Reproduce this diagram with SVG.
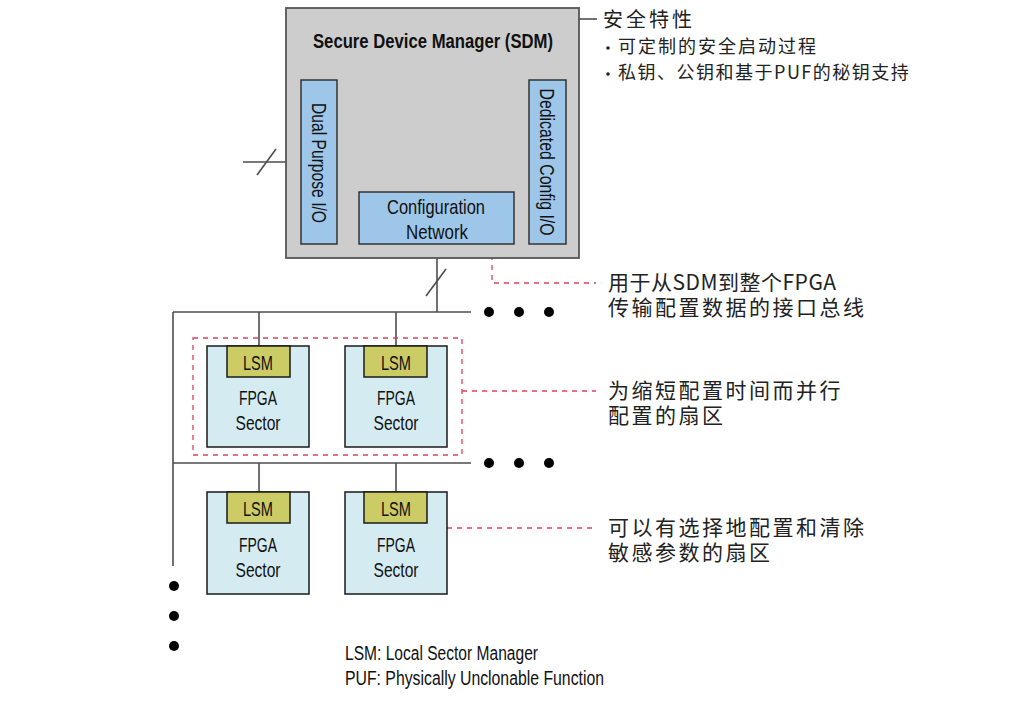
<svg xmlns="http://www.w3.org/2000/svg" width="1020" height="705" viewBox="0 0 1020 705">
<style>
.en{font-family:"Liberation Sans Narrow","Liberation Sans",Arial,sans-serif;fill:#111}
.cn{font-family:"Noto Sans CJK SC","Noto Sans",sans-serif;fill:#222}
.ln{stroke:#4d4d4d;stroke-width:1.6;fill:none}
.dash{stroke:#e0405a;stroke-width:1.3;stroke-dasharray:5,5;fill:none}
.sec{fill:#d4ebf1;stroke:#1a1a1a;stroke-width:1.5}
.lsm{fill:#cccc66;stroke:#1a1a1a;stroke-width:1.5}
.io{fill:#9dc6e8;stroke:#333;stroke-width:1.5}
.dot{fill:#000}
</style>
<rect width="1020" height="705" fill="#fff"/>
<g id="connectors">
  <line class="ln" x1="579" y1="19" x2="597" y2="19"/>
  <line class="ln" x1="243" y1="162" x2="301" y2="162"/>
  <line class="ln" x1="257" y1="175" x2="276" y2="149"/>
  <line class="ln" x1="437" y1="244" x2="437" y2="312"/>
  <line class="ln" x1="426" y1="296" x2="446" y2="269"/>
  <line class="ln" x1="173" y1="312" x2="471" y2="312"/>
  <line class="ln" x1="173" y1="463" x2="471" y2="463"/>
  <line class="ln" x1="173" y1="312" x2="173" y2="566"/>
  <line class="ln" x1="259" y1="312" x2="259" y2="346"/>
  <line class="ln" x1="396" y1="312" x2="396" y2="346"/>
  <line class="ln" x1="259" y1="463" x2="259" y2="492"/>
  <line class="ln" x1="396" y1="463" x2="396" y2="492"/>
  <polyline class="dash" points="492,245 492,283 596,283"/>
  <line class="dash" x1="462" y1="391" x2="596" y2="391"/>
  <line class="dash" x1="447" y1="528" x2="596" y2="528"/>
  <g class="dot">
    <circle cx="489" cy="312" r="5"/><circle cx="519" cy="312" r="5"/><circle cx="549" cy="312" r="5"/>
    <circle cx="489" cy="463" r="5"/><circle cx="519" cy="463" r="5"/><circle cx="549" cy="463" r="5"/>
    <circle cx="174" cy="586" r="5"/><circle cx="174" cy="616" r="5"/><circle cx="174" cy="646" r="5"/>
  </g>
</g>
<g id="sdm">
  <rect x="286" y="8" width="293" height="250" fill="#cdcdcd" stroke="#555" stroke-width="1.8"/>
  <text class="en" x="433" y="48" font-size="21" font-weight="bold" text-anchor="middle" textLength="240" lengthAdjust="spacingAndGlyphs">Secure Device Manager (SDM)</text>
</g>
<g id="dual-purpose-io">
  <rect class="io" x="301" y="80" width="36" height="164"/>
  <text class="en" transform="translate(312,163) rotate(90)" font-size="21" text-anchor="middle" textLength="120" lengthAdjust="spacingAndGlyphs">Dual Purpose I/O</text>
</g>
<g id="dedicated-config-io">
  <rect class="io" x="529" y="80" width="37" height="164"/>
  <text class="en" transform="translate(540,162) rotate(90)" font-size="21" text-anchor="middle" textLength="147" lengthAdjust="spacingAndGlyphs">Dedicated Config I/O</text>
</g>
<g id="configuration-network">
  <rect class="io" x="359" y="192" width="155" height="52"/>
  <text class="en" x="436" y="214" font-size="21" text-anchor="middle" textLength="98" lengthAdjust="spacingAndGlyphs">Configuration</text>
  <text class="en" x="437" y="239" font-size="21" text-anchor="middle" textLength="62" lengthAdjust="spacingAndGlyphs">Network</text>
</g>
<g id="sector-1">
  <rect class="sec" x="207" y="346" width="102" height="101"/>
  <rect class="lsm" x="227" y="346" width="63" height="31"/>
  <text class="en" x="258" y="370" font-size="21" text-anchor="middle" textLength="30" lengthAdjust="spacingAndGlyphs">LSM</text>
  <text class="en" x="258" y="405" font-size="21" text-anchor="middle" textLength="38" lengthAdjust="spacingAndGlyphs">FPGA</text>
  <text class="en" x="258" y="430" font-size="21" text-anchor="middle" textLength="45" lengthAdjust="spacingAndGlyphs">Sector</text>
</g>
<g id="sector-2">
  <rect class="sec" x="345" y="346" width="102" height="101"/>
  <rect class="lsm" x="364" y="346" width="63" height="31"/>
  <text class="en" x="396" y="370" font-size="21" text-anchor="middle" textLength="30" lengthAdjust="spacingAndGlyphs">LSM</text>
  <text class="en" x="396" y="405" font-size="21" text-anchor="middle" textLength="38" lengthAdjust="spacingAndGlyphs">FPGA</text>
  <text class="en" x="396" y="430" font-size="21" text-anchor="middle" textLength="45" lengthAdjust="spacingAndGlyphs">Sector</text>
</g>
<g id="parallel-group">
  <rect class="dash" x="193" y="338" width="269" height="117"/>
</g>
<g id="sector-3">
  <rect class="sec" x="207" y="492" width="102" height="102"/>
  <rect class="lsm" x="227" y="492" width="63" height="31"/>
  <text class="en" x="258" y="516" font-size="21" text-anchor="middle" textLength="30" lengthAdjust="spacingAndGlyphs">LSM</text>
  <text class="en" x="258" y="552" font-size="21" text-anchor="middle" textLength="38" lengthAdjust="spacingAndGlyphs">FPGA</text>
  <text class="en" x="258" y="577" font-size="21" text-anchor="middle" textLength="45" lengthAdjust="spacingAndGlyphs">Sector</text>
</g>
<g id="sector-4">
  <rect class="sec" x="345" y="492" width="102" height="102"/>
  <rect class="lsm" x="364" y="492" width="63" height="31"/>
  <text class="en" x="396" y="516" font-size="21" text-anchor="middle" textLength="30" lengthAdjust="spacingAndGlyphs">LSM</text>
  <text class="en" x="396" y="552" font-size="21" text-anchor="middle" textLength="38" lengthAdjust="spacingAndGlyphs">FPGA</text>
  <text class="en" x="396" y="577" font-size="21" text-anchor="middle" textLength="45" lengthAdjust="spacingAndGlyphs">Sector</text>
</g>
<g id="security-notes">
  <text class="cn" x="603" y="27" font-size="20" letter-spacing="3">安全特性</text>
  <circle cx="608" cy="48" r="1.8" fill="#222"/>
  <text class="cn" x="618" y="53" font-size="18" letter-spacing="2">可定制的安全启动过程</text>
  <circle cx="608" cy="74" r="1.8" fill="#222"/>
  <text class="cn" x="618" y="79" font-size="18" letter-spacing="1.5">私钥、公钥和基于PUF的秘钥支持</text>
</g>
<g id="annotations">
  <text class="cn" x="608" y="290" font-size="21" letter-spacing="0.5">用于从SDM到整个FPGA</text>
  <text class="cn" x="608" y="315" font-size="21" letter-spacing="2.5">传输配置数据的接口总线</text>
  <text class="cn" x="608" y="398" font-size="21" letter-spacing="2.5">为缩短配置时间而并行</text>
  <text class="cn" x="608" y="423" font-size="21" letter-spacing="2.5">配置的扇区</text>
  <text class="cn" x="608" y="535" font-size="21" letter-spacing="2.5">可以有选择地配置和清除</text>
  <text class="cn" x="608" y="560" font-size="21" letter-spacing="2.5">敏感参数的扇区</text>
</g>
<g id="legend">
  <text class="en" x="345" y="660" font-size="20" textLength="193" lengthAdjust="spacingAndGlyphs">LSM: Local Sector Manager</text>
  <text class="en" x="345" y="685" font-size="20" textLength="259" lengthAdjust="spacingAndGlyphs">PUF: Physically Unclonable Function</text>
</g>
</svg>
